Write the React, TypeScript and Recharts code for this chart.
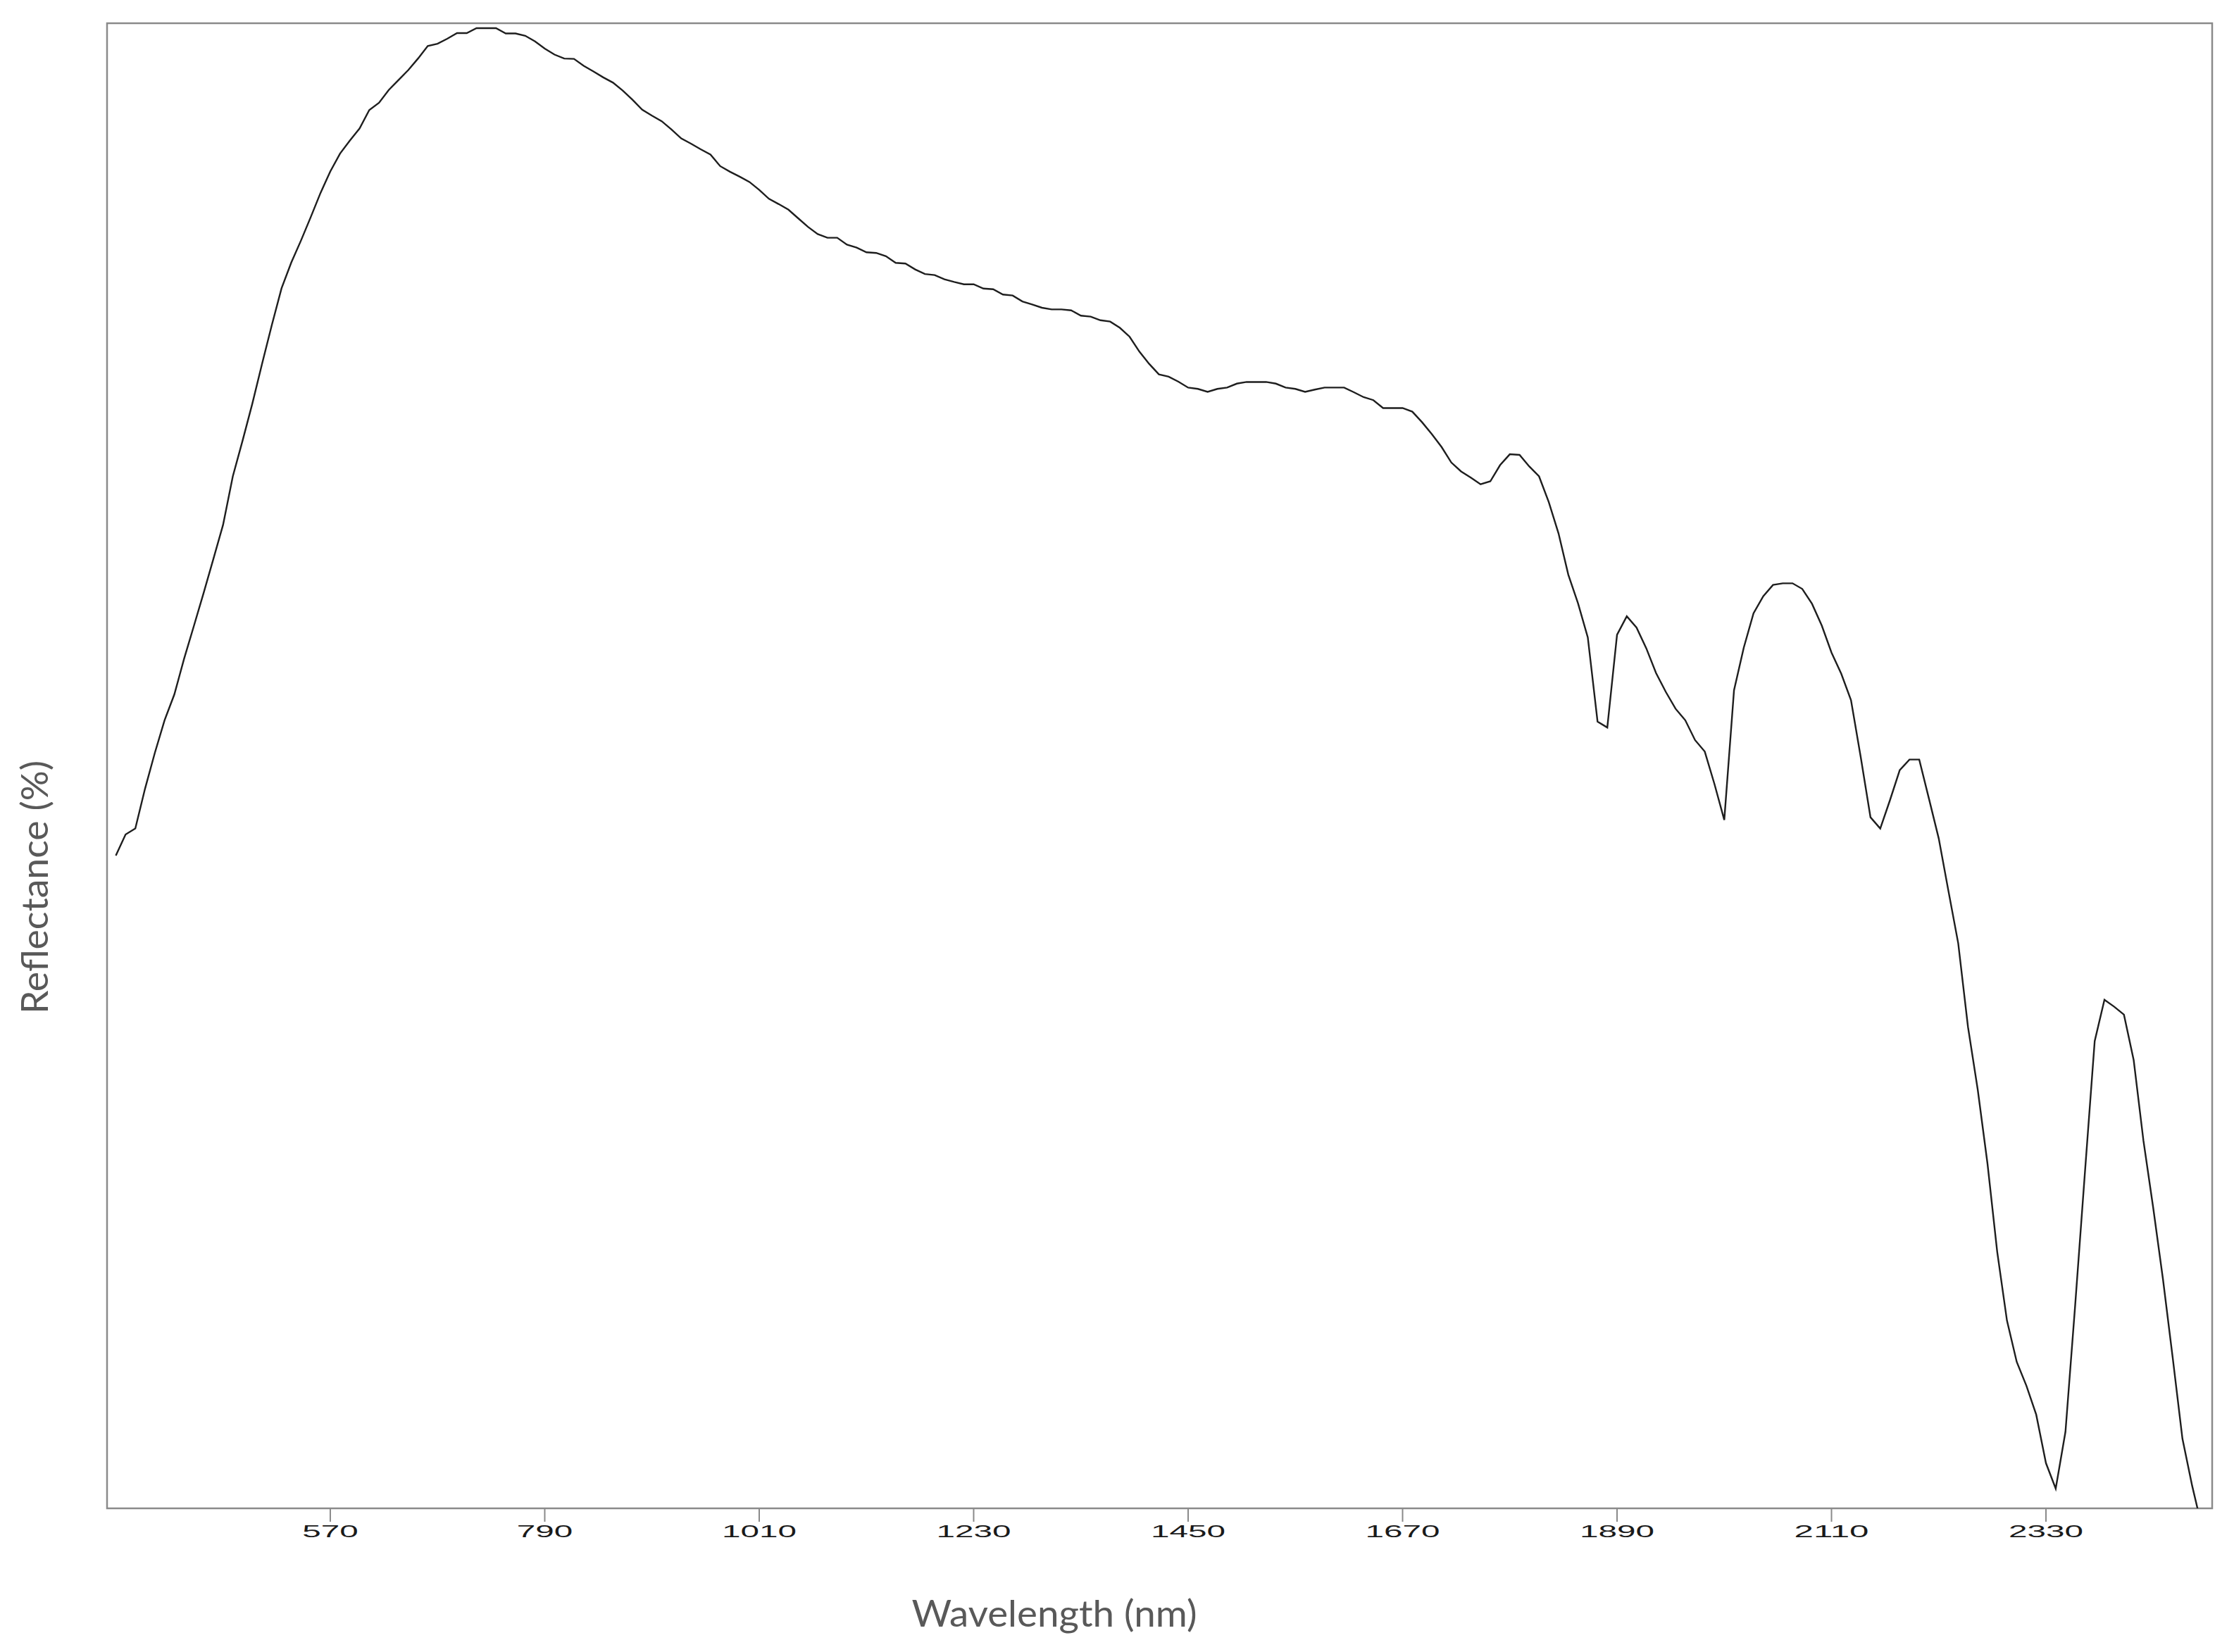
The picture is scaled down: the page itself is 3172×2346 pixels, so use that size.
import { LineChart, Line, XAxis, YAxis, ReferenceArea } from 'recharts';

// wavelength grid of the spectrum (nm)
const wavelengths = [
  350, 360, 370, 380, 390, 400, 410, 420, 430, 440,
  450, 460, 470, 480, 490, 500, 510, 520, 530, 540,
  550, 560, 570, 580, 590, 600, 610, 620, 630, 640,
  650, 660, 670, 680, 690, 700, 710, 720, 730, 740,
  750, 760, 770, 780, 790, 800, 810, 820, 830, 840,
  850, 860, 870, 880, 890, 900, 910, 920, 930, 940,
  950, 960, 970, 980, 990, 1000, 1010, 1020, 1030, 1040,
  1050, 1060, 1070, 1080, 1090, 1100, 1110, 1120, 1130, 1140,
  1150, 1160, 1170, 1180, 1190, 1200, 1210, 1220, 1230, 1240,
  1250, 1260, 1270, 1280, 1290, 1300, 1310, 1320, 1330, 1340,
  1350, 1360, 1370, 1380, 1390, 1400, 1410, 1420, 1430, 1440,
  1450, 1460, 1470, 1480, 1490, 1500, 1510, 1520, 1530, 1540,
  1550, 1560, 1570, 1580, 1590, 1600, 1610, 1620, 1630, 1640,
  1650, 1660, 1670, 1680, 1690, 1700, 1710, 1720, 1730, 1740,
  1750, 1760, 1770, 1780, 1790, 1800, 1810, 1820, 1830, 1840,
  1850, 1860, 1870, 1880, 1890, 1900, 1910, 1920, 1930, 1940,
  1950, 1960, 1970, 1980, 1990, 2000, 2010, 2020, 2030, 2040,
  2050, 2060, 2070, 2080, 2090, 2100, 2110, 2120, 2130, 2140,
  2150, 2160, 2170, 2180, 2190, 2200, 2210, 2220, 2230, 2240,
  2250, 2260, 2270, 2280, 2290, 2300, 2310, 2320, 2330, 2340,
  2350, 2360, 2370, 2380, 2390, 2400, 2410, 2420, 2430, 2440,
  2450, 2460, 2470, 2480, 2490,
];

// reflectance (%)
const reflectance = [
  24.78, 25.42, 25.6, 26.81, 27.89, 28.88, 29.66, 30.74, 31.73, 32.73,
  33.76, 34.8, 36.27, 37.35, 38.47, 39.68, 40.85, 41.97, 42.75, 43.42,
  44.13, 44.86, 45.51, 46.05, 46.44, 46.81, 47.37, 47.59, 47.98, 48.28,
  48.58, 48.93, 49.31, 49.38, 49.53, 49.7, 49.7, 49.85, 49.85, 49.85,
  49.69, 49.69, 49.62, 49.45, 49.23, 49.05, 48.93, 48.92, 48.71, 48.54,
  48.36, 48.2, 47.96, 47.68, 47.38, 47.2, 47.03, 46.78, 46.51, 46.35,
  46.18, 46.02, 45.67, 45.5, 45.35, 45.19, 44.95, 44.68, 44.52, 44.35,
  44.09, 43.83, 43.61, 43.5, 43.5, 43.29, 43.2, 43.06, 43.04, 42.94,
  42.74, 42.72, 42.54, 42.4, 42.37, 42.24, 42.16, 42.09, 42.09, 41.96,
  41.94, 41.78, 41.75, 41.57, 41.48, 41.38, 41.33, 41.33, 41.3, 41.14,
  41.11, 41.0, 40.96, 40.77, 40.5, 40.05, 39.68, 39.36, 39.29, 39.14,
  38.96, 38.92, 38.83, 38.92, 38.96, 39.08, 39.13, 39.13, 39.13, 39.08,
  38.96, 38.92, 38.83, 38.9, 38.96, 38.96, 38.96, 38.82, 38.67, 38.58,
  38.34, 38.34, 38.34, 38.23, 37.91, 37.55, 37.16, 36.69, 36.42, 36.23,
  36.03, 36.12, 36.61, 36.94, 36.92, 36.57, 36.27, 35.49, 34.54, 33.29,
  32.42, 31.39, 28.84, 28.66, 31.47, 32.03, 31.69, 31.06, 30.31, 29.74,
  29.23, 28.88, 28.28, 27.93, 26.94, 25.86, 29.79, 31.08, 32.12, 32.64,
  32.98, 33.03, 33.03, 32.86, 32.41, 31.75, 30.93, 30.29, 29.49, 27.76,
  25.94, 25.6, 26.46, 27.37, 27.69, 27.69, 26.5, 25.3, 23.7, 22.12,
  19.59, 17.69, 15.45, 12.77, 10.69, 9.44, 8.71, 7.84, 6.37, 5.6,
  7.32, 11.17, 15.19, 19.16, 20.41, 20.2, 19.96, 18.58, 16.14, 14.11,
  11.95, 9.57, 7.11, 5.68, 4.43,
];

const xTicks = [570, 790, 1010, 1230, 1450, 1670, 1890, 2110, 2330];

const X_MIN = 341;
const X_MAX = 2500.5;
const Y_MIN = 5;
const Y_MAX = 50;

const data = wavelengths.map((w, i) => ({ wavelength: w, reflectance: reflectance[i] }));

function WavelengthTick({ x, y, payload }: { x?: number; y?: number; payload?: { value: number } }) {
  const label = String(payload?.value ?? '');
  return (
    <text
      x={x}
      y={(y ?? 0) + 20}
      textAnchor="middle"
      fontFamily="'Liberation Sans', Arial, sans-serif"
      fontSize={23}
      fill="#1a1a1a"
      textLength={label.length * 26.5}
      lengthAdjust="spacingAndGlyphs"
    >
      {label}
    </text>
  );
}

export default function App() {
  return (
    <div style={{ position: 'absolute', left: 0, top: 0, width: 3172, height: 2346, background: '#fff' }}>
      <LineChart
        width={3172}
        height={2346}
        data={data}
        margin={{ top: 33, right: 31, left: 152, bottom: 0 }}
      >
        <XAxis
          dataKey="wavelength"
          type="number"
          domain={[X_MIN, X_MAX]}
          ticks={xTicks}
          allowDataOverflow
          height={204}
          axisLine={false}
          tickLine={{ stroke: '#8a8a8a', strokeWidth: 2 }}
          tickSize={19}
          tick={<WavelengthTick />}
        />
        <YAxis hide type="number" domain={[Y_MIN, Y_MAX]} allowDataOverflow />
        <ReferenceArea
          x1={X_MIN}
          x2={X_MAX}
          y1={Y_MIN}
          y2={Y_MAX}
          fill="none"
          fillOpacity={0}
          stroke="#8a8a8a"
          strokeWidth={2.5}
        />
        <Line
          type="linear"
          dataKey="reflectance"
          stroke="#1e1e1e"
          strokeWidth={2.4}
          dot={false}
          activeDot={false}
          isAnimationActive={false}
        />
      </LineChart>
      <svg
        width={3172}
        height={2346}
        style={{ position: 'absolute', left: 0, top: 0, pointerEvents: 'none' }}
      >
        <text
          x={1497}
          y={2310}
          textAnchor="middle"
          fontFamily="Lato, 'Open Sans', sans-serif"
          fontSize={53}
          fill="#595959"
          textLength={405}
          lengthAdjust="spacingAndGlyphs"
        >
          Wavelength (nm)
        </text>
        <text
          transform="translate(68, 1260) rotate(-90)"
          textAnchor="middle"
          fontFamily="Lato, 'Open Sans', sans-serif"
          fontSize={53}
          fill="#595959"
          textLength={360}
          lengthAdjust="spacingAndGlyphs"
        >
          Reflectance (%)
        </text>
      </svg>
    </div>
  );
}
